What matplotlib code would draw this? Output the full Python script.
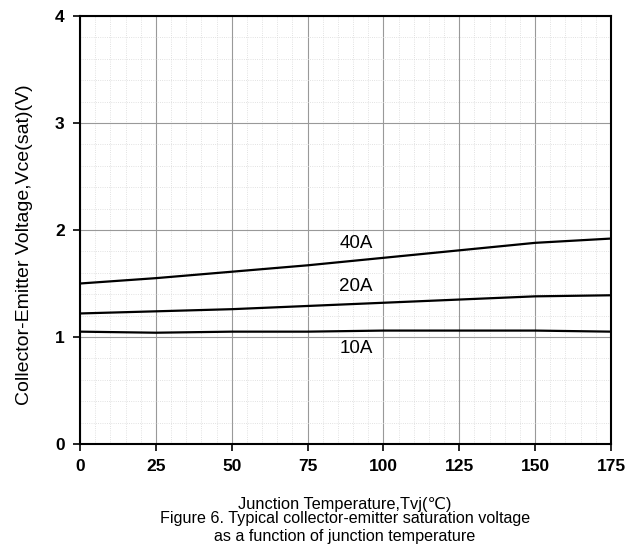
import matplotlib
matplotlib.use("Agg")
import matplotlib.pyplot as plt
from matplotlib.ticker import MultipleLocator

plt.rcParams["font.family"] = ["Liberation Sans", "DejaVu Sans"]

# junction temperature (deg C)
temps = [0, 25, 50, 75, 100, 125, 150, 175]

# Vce(sat)
vce_40a = [1.50, 1.55, 1.61, 1.67, 1.74, 1.81, 1.88, 1.92]
vce_20a = [1.22, 1.24, 1.26, 1.29, 1.32, 1.35, 1.38, 1.39]
vce_10a = [1.05, 1.04, 1.05, 1.05, 1.06, 1.06, 1.06, 1.05]

curve_labels = ["40A", "20A", "10A"]
label_pos = [(91, 1.87), (91, 1.47), (91, 0.89)]

fig = plt.figure(figsize=(6.43, 5.52), dpi=100)
ax = fig.add_axes([80 / 643, 1 - 444 / 552, 531 / 643, 428 / 552])

for ys in (vce_40a, vce_20a, vce_10a):
    ax.plot(temps, ys, color="black", lw=1.6)

for lab, (x, y) in zip(curve_labels, label_pos):
    ax.text(x, y, lab, fontsize=13.5, ha="center", va="center")

ax.set_xlim(0, 175)
ax.set_ylim(0, 4)
ax.xaxis.set_major_locator(MultipleLocator(25))
ax.xaxis.set_minor_locator(MultipleLocator(5))
ax.yaxis.set_major_locator(MultipleLocator(1))
ax.yaxis.set_minor_locator(MultipleLocator(0.2))
ax.grid(which="major", color="#999999", lw=0.8)
ax.grid(which="minor", color="#d8d8d8", lw=0.6, ls=":")
ax.tick_params(which="minor", length=0)
ax.tick_params(which="major", length=5, width=1.2, direction="out", pad=6)
for lbl in ax.get_xticklabels() + ax.get_yticklabels():
    lbl.set_fontweight("bold")
    lbl.set_fontsize(12.5)
for s in ax.spines.values():
    s.set_linewidth(1.5)

ax.set_ylabel("Collector-Emitter Voltage,Vce(sat)(V)", fontsize=14)
ax.yaxis.set_label_coords(-47 / 531, 199 / 428)

fig.text(345 / 643, 1 - 504 / 552, "Junction Temperature,Tvj(\u2103)", fontsize=11.8,
         ha="center", va="center")
fig.text(345 / 643, 1 - 519 / 552, "Figure 6. Typical collector-emitter saturation voltage",
         fontsize=11.6, ha="center", va="center")
fig.text(345 / 643, 1 - 537 / 552, "as a function of junction temperature",
         fontsize=11.6, ha="center", va="center")

fig.savefig("out.png", dpi=100)
